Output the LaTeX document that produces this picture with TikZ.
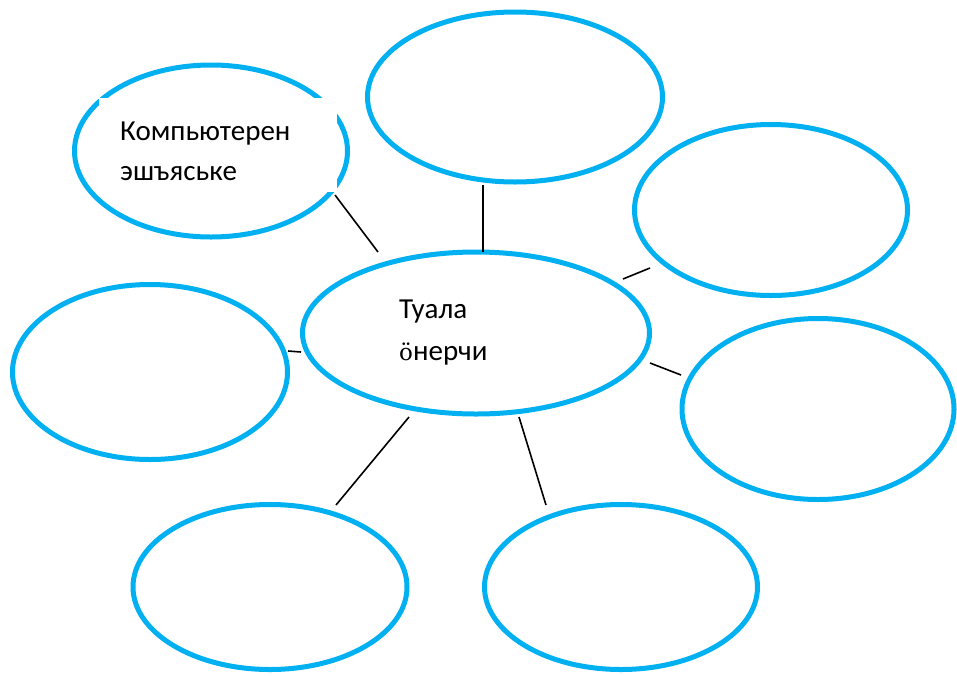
\documentclass[tikz,border=0pt]{standalone}
\usepackage{fontspec}
\setmainfont{Carlito}
\newfontfamily\oefont{DejaVu Serif}
\usetikzlibrary{shapes.geometric}
\tikzset{
  bubble/.style={draw={rgb,255:red,0;green,176;blue,240}, line width=5pt, ellipse, inner sep=0pt},
  conn/.style={draw=black, line width=1.6pt},
  lbl/.style={anchor=base west, inner sep=0pt, font=\fontsize{29}{34}\selectfont}
}
\begin{document}
\begin{tikzpicture}[x=1pt,y=-1pt]
\useasboundingbox (0,0) rectangle (957,675);
% bubbles
\node[bubble, minimum width=273pt, minimum height=172pt] (tl) at (211,151) {};
\fill[white] (99,98) rectangle (337,192);
\node[bubble, minimum width=295pt, minimum height=170pt] (tc) at (515,97) {};
\node[bubble, minimum width=273pt, minimum height=171pt] (rt) at (771,210) {};
\node[bubble, minimum width=275pt, minimum height=175pt] (lf) at (150,372) {};
\node[bubble, minimum width=347pt, minimum height=162pt] (ce) at (476,333) {};
\node[bubble, minimum width=272pt, minimum height=181pt] (rb) at (818,409) {};
\node[bubble, minimum width=274pt, minimum height=165pt] (bl) at (270,587) {};
\node[bubble, minimum width=273pt, minimum height=165pt] (br) at (621,587) {};
% labels
\node[lbl] (t1) at (120,140) {Компьютерен};
\node[lbl] (t2) at (120,180) {эшъяське};
\node[lbl] (t3) at (399,318) {Туала};
\node[lbl] (t4) at (399,360) {{\oefont\fontsize{23}{26}\selectfont ӧ}нерчи};
% connector ends
\coordinate (a1) at (335,195); \coordinate (a2) at (378,252);
\coordinate (b1) at (483,185); \coordinate (b2) at (483,252);
\coordinate (c1) at (623,279); \coordinate (c2) at (650,268);
\coordinate (d1) at (288,351); \coordinate (d2) at (301,352);
\coordinate (e1) at (650,363); \coordinate (e2) at (681,375);
\coordinate (f1) at (409,417); \coordinate (f2) at (336,505);
\coordinate (g1) at (519,417); \coordinate (g2) at (546,505);
\draw[conn] (a1) -- (a2);
\draw[conn] (b1) -- (b2);
\draw[conn] (c1) -- (c2);
\draw[conn] (d1) -- (d2);
\draw[conn] (e1) -- (e2);
\draw[conn] (f1) -- (f2);
\draw[conn] (g1) -- (g2);
\end{tikzpicture}
\end{document}
